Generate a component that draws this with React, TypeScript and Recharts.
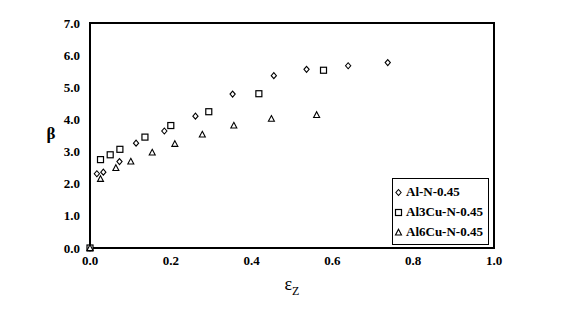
import React from 'react';
import {
  ScatterChart,
  Scatter,
  XAxis,
  YAxis,
  ReferenceArea,
  Label,
} from 'recharts';

const xTicks = [0, 0.2, 0.4, 0.6, 0.8, 1.0];
const yTicks = [0, 1, 2, 3, 4, 5, 6, 7];

// Al-N-0.45 (diamonds)
const alX = [0, 0.017, 0.033, 0.073, 0.114, 0.184, 0.261, 0.353, 0.455, 0.536, 0.639, 0.737];
const alY = [0, 2.31, 2.36, 2.69, 3.26, 3.64, 4.1, 4.79, 5.36, 5.56, 5.67, 5.77];

// Al3Cu-N-0.45 (squares)
const al3X = [0, 0.026, 0.05, 0.074, 0.136, 0.2, 0.294, 0.418, 0.578];
const al3Y = [0, 2.75, 2.9, 3.07, 3.45, 3.81, 4.24, 4.8, 5.53];

// Al6Cu-N-0.45 (triangles)
const al6X = [0, 0.026, 0.064, 0.101, 0.154, 0.21, 0.278, 0.356, 0.449, 0.561];
const al6Y = [0, 2.15, 2.49, 2.69, 2.97, 3.24, 3.53, 3.81, 4.02, 4.14];

const seriesNames = ['Al-N-0.45', 'Al3Cu-N-0.45', 'Al6Cu-N-0.45'];

const toPoints = (xs: number[], ys: number[]) => xs.map((x, i) => ({ x, y: ys[i] }));

const FONT = '"Liberation Serif", "Times New Roman", serif';

const Diamond = ({ cx, cy }: any) => (
  <path
    d={`M${cx},${cy - 3}L${cx + 2.6},${cy}L${cx},${cy + 3}L${cx - 2.6},${cy}Z`}
    fill="#fff"
    stroke="#000"
    strokeWidth={1.1}
  />
);

const Square = ({ cx, cy }: any) => (
  <rect x={cx - 3} y={cy - 3} width={6} height={6} fill="#fff" stroke="#000" strokeWidth={1.2} />
);

const Triangle = ({ cx, cy }: any) => (
  <path
    d={`M${cx},${cy - 3.2}L${cx + 3},${cy + 2.5}L${cx - 3},${cy + 2.5}Z`}
    fill="#fff"
    stroke="#000"
    strokeWidth={1.1}
  />
);

const shapes = [Diamond, Square, Triangle];

// legend drawn over the plot, bottom right corner
const LegendBox = () => (
  <div
    style={{
      position: 'absolute',
      left: 392,
      top: 178,
      width: 97,
      boxSizing: 'border-box',
      border: '1px solid #000',
      background: '#fff',
      padding: '3px 0 2px 1px',
      fontFamily: FONT,
      fontWeight: 'bold',
      fontSize: 13,
      color: '#000',
      whiteSpace: 'nowrap',
    }}
  >
    {seriesNames.map((name, i) => {
      const Shape = shapes[i];
      return (
        <div key={name} style={{ display: 'flex', alignItems: 'center', height: 20 }}>
          <svg width={9} height={9} style={{ marginRight: 3 }}>
            <Shape cx={4.5} cy={4.5} />
          </svg>
          <span>{name}</span>
        </div>
      );
    })}
  </div>
);

const tickStyle = { fontFamily: FONT, fontWeight: 'bold', fontSize: 13, fill: '#000' };

export default function App() {
  return (
    <div style={{ position: 'absolute', left: 0, top: 0, width: 565, height: 311, background: '#fff' }}>
      <ScatterChart width={565} height={311} margin={{ top: 23, right: 71, left: 30, bottom: 23 }}>
        <XAxis
          type="number"
          dataKey="x"
          domain={[0, 1]}
          ticks={xTicks}
          tickFormatter={(v: number) => v.toFixed(1)}
          tick={tickStyle}
          tickLine={false}
          tickSize={0}
          tickMargin={8}
          axisLine={false}
          height={40}
        >
          <Label
            content={({ viewBox }: any) => (
              <text
                x={viewBox.x + viewBox.width / 2}
                y={viewBox.y + 42}
                textAnchor="middle"
                fontFamily={FONT}
                fontSize={18}
                fill="#000"
              >
                ε<tspan fontSize={12} dy={5}>Z</tspan>
              </text>
            )}
          />
        </XAxis>
        <YAxis
          type="number"
          dataKey="y"
          domain={[0, 7]}
          ticks={yTicks}
          tickFormatter={(v: number) => v.toFixed(1)}
          tick={tickStyle}
          tickLine={false}
          tickSize={0}
          tickMargin={10}
          axisLine={false}
          width={60}
        >
          <Label
            content={({ viewBox }: any) => (
              <text
                x={viewBox.x + 21}
                y={viewBox.y + viewBox.height / 2 + 3}
                textAnchor="middle"
                fontFamily={FONT}
                fontWeight="bold"
                fontSize={17}
                fill="#000"
              >
                β
              </text>
            )}
          />
        </YAxis>
        <ReferenceArea x1={0} x2={1} y1={0} y2={7} fill="none" stroke="#000" strokeWidth={2} ifOverflow="visible" />
        <Scatter name={seriesNames[0]} data={toPoints(alX, alY)} shape={Diamond} isAnimationActive={false} />
        <Scatter name={seriesNames[1]} data={toPoints(al3X, al3Y)} shape={Square} isAnimationActive={false} />
        <Scatter name={seriesNames[2]} data={toPoints(al6X, al6Y)} shape={Triangle} isAnimationActive={false} />
      </ScatterChart>
      <LegendBox />
    </div>
  );
}
